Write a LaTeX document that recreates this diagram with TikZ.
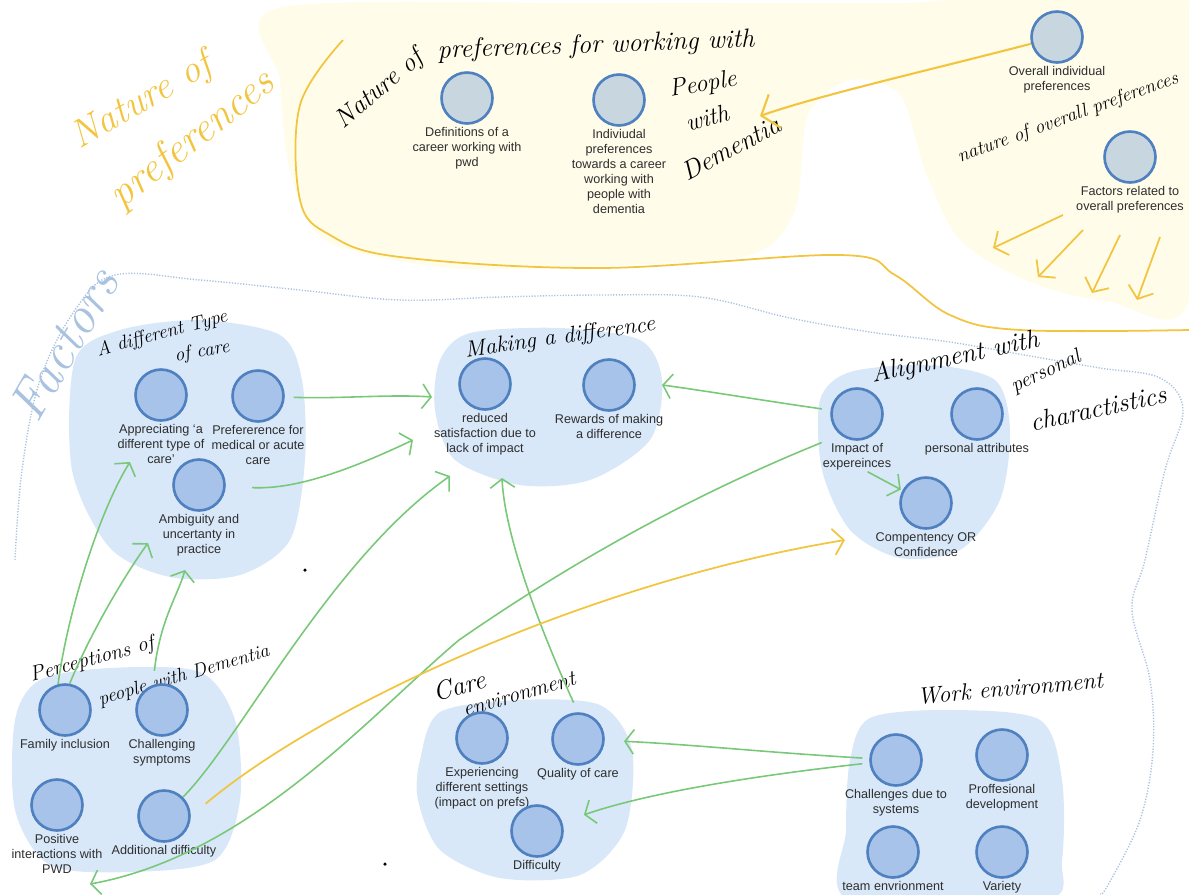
\documentclass[tikz,border=0pt]{standalone}
\usepackage{fontspec}
\usepackage{tikz}
\usetikzlibrary{arrows.meta}
\usetikzlibrary{positioning}
\newfontfamily\labelfont[Ligatures=TeX]{Liberation Sans}
\definecolor{PaleYellow}{HTML}{FFFCEA}
\definecolor{PenYellow}{HTML}{F2C540}
\definecolor{PenGreen}{HTML}{78C878}
\definecolor{GroupBlue}{HTML}{D8E8F9}
\definecolor{BubbleBlue}{HTML}{A8C3E9}
\definecolor{BubbleEdge}{HTML}{4F80BF}
\definecolor{BubbleGrey}{HTML}{C8D7DF}
\definecolor{PenBlue}{HTML}{A9C2E0}
\definecolor{LabelGrey}{HTML}{2E2E2E}

\begin{document}
\begin{tikzpicture}[x=0.02cm, y=-0.02cm,
  bubble/.style={circle, draw=BubbleEdge, fill=BubbleBlue, line width=1.5pt,
    minimum size=29pt, inner sep=0pt},
  topbubble/.style={bubble, fill=BubbleGrey},
  blabel/.style={align=center, font=\labelfont\fontsize{7.2}{8.5}\selectfont,
    text=LabelGrey, inner sep=0.5pt},
  hand/.style={font=\itshape\fontsize{#1}{#1}\selectfont, inner sep=0pt},
  garrow/.style={draw=PenGreen, line width=0.9pt,
    arrows={-Straight Barb[length=5pt,width=14pt]}},
  yarrow/.style={draw=PenYellow, line width=1pt,
    arrows={-Straight Barb[length=6pt,width=15pt]}},
  groupblob/.style={fill=GroupBlue},
]

\useasboundingbox (0,0) rectangle (1189,894);
\clip (0,0) rectangle (1189,894);

% The grid
% \draw[step=50, gray!40, very thin] (0,0) grid (1189,894);

% yellow background of the preferences part
\fill[PaleYellow] plot[smooth cycle, tension=0.5] coordinates {
  (278,8) (600,3) (900,3) (1189,2) (1189,300) (1110,302) (1030,282)
  (960,240) (925,170) (900,95) (850,80) (808,115) (795,210) (750,255)
  (600,266) (450,268) (325,240) (290,170) (280,80)};

% yellow line round the preferences
\draw[PenYellow, line width=1pt] plot[smooth, tension=0.6] coordinates {
  (343,40) (300,105) (300,200) (330,235) (400,257) (600,268) (840,255)
  (895,275) (950,315) (1020,330) (1189,330)};

% dotted line round the factors
\draw[PenBlue, line width=0.8pt, dash pattern=on 0.7pt off 0.9pt]
  plot[smooth, tension=0.6] coordinates {
  (15,560) (22,470) (40,380) (75,310) (115,275) (200,280) (300,290)
  (400,300) (500,297) (600,295) (700,297) (790,318) (870,332) (950,342)
  (1030,356) (1100,368) (1160,378) (1183,410) (1165,470) (1145,560)
  (1132,610) (1150,680) (1153,750) (1140,820) (1108,885) (1100,894)};

% group blobs
\fill[groupblob] plot[smooth cycle] coordinates {
  (75,360) (120,330) (200,320) (280,335) (302,380) (305,460) (290,540)
  (240,575) (170,577) (110,548) (72,470)};
\fill[groupblob] plot[smooth cycle] coordinates {
  (440,360) (470,333) (560,328) (640,340) (662,380) (650,440) (590,480)
  (520,485) (455,460) (435,410)};
\fill[groupblob] plot[smooth cycle] coordinates {
  (820,400) (850,372) (930,365) (995,380) (1010,430) (1000,500) (960,550)
  (900,558) (850,530) (822,470)};
\fill[groupblob] plot[smooth cycle] coordinates {
  (15,720) (40,680) (110,668) (200,672) (235,720) (240,800) (215,860)
  (130,872) (50,865) (15,810)};
\fill[groupblob] plot[smooth cycle] coordinates {
  (420,760) (440,712) (520,700) (600,705) (632,750) (625,830) (580,875)
  (500,878) (440,850) (418,800)};
\fill[groupblob] plot[smooth cycle] coordinates {
  (850,760) (870,718) (950,710) (1040,720) (1062,780) (1062,860)
  (1045,900) (850,900) (846,830)};

% handwritten titles
\node[hand=22, text=PenYellow, rotate=30] (natPrefA) at (142,102) {Nature of};
\node[hand=24, text=PenYellow, rotate=38] (natPrefB) at (193,140) {preferences};
\node[hand=15, rotate=40] (natWorkA) at (380,90) {Nature of};
\node[hand=15, rotate=2] (natWorkB) at (596,46) {preferences for working with};
\node[hand=14, rotate=10] (natWorkC) at (703,85) {People};
\node[hand=14, rotate=15] (natWorkD) at (707,118) {with};
\node[hand=15, rotate=28] (natWorkE) at (731,148) {Dementia};
\node[hand=11, rotate=20] (natOver) at (1068,118) {nature of overall preferences};
\node[hand=30, text=PenBlue, rotate=60] (factors) at (64,344) {Factors};
\node[hand=11, rotate=15] (diffTypeA) at (162,334) {A different Type};
\node[hand=11, rotate=10] (diffTypeB) at (202,352) {of care};
\node[hand=13, rotate=8] (makeDiff) at (560,338) {Making a difference};
\node[hand=15, rotate=12] (alignA) at (955,358) {Alignment with};
\node[hand=12, rotate=25] (alignB) at (1046,372) {personal};
\node[hand=15, rotate=12] (alignC) at (1098,408) {charactistics};
\node[hand=12, rotate=15] (percA) at (92,660) {Perceptions of};
\node[hand=11, rotate=16] (percB) at (184,676) {people with Dementia};
\node[hand=15, rotate=15] (careA) at (459,686) {Care};
\node[hand=12.5, rotate=16] (careB) at (519,694) {environment};
\node[hand=13.4, rotate=5] (workEnv) at (1010,688) {Work environment};

% preferences bubbles
\node[topbubble] (defi) at (467,98) {};
\node[blabel, below=1pt of defi] (defiL) {Definitions of a\\career working with\\pwd};
\node[topbubble] (indi) at (619,100) {};
\node[blabel, below=1pt of indi] (indiL) {Indiviudal\\preferences\\towards a career\\working with\\people with\\dementia};
\node[topbubble] (over) at (1057,37) {};
\node[blabel, below=1pt of over] (overL) {Overall individual\\preferences};
\node[topbubble] (fact) at (1130,157) {};
\node[blabel, below=1pt of fact] (factL) {Factors related to\\overall preferences};

% a different type of care
\node[bubble] (appr) at (161,395) {};
\node[blabel, below=1pt of appr] (apprL) {Appreciating `a\\different type of\\care'};
\node[bubble] (pref) at (258,396) {};
\node[blabel, below=1pt of pref] (prefL) {Prefererence for\\medical or acute\\care};
\node[bubble] (ambi) at (199,485) {};
\node[blabel, below=1pt of ambi] (ambiL) {Ambiguity and\\uncertanty in\\practice};

% making a difference
\node[bubble] (redu) at (485,384) {};
\node[blabel, below=1pt of redu] (reduL) {reduced\\satisfaction due to\\lack of impact};
\node[bubble] (rewa) at (609,385) {};
\node[blabel, below=1pt of rewa] (rewaL) {Rewards of making\\a difference};

% alignment with personal characteristics
\node[bubble] (impa) at (857,414) {};
\node[blabel, below=1pt of impa] (impaL) {Impact of\\expereinces};
\node[bubble] (attr) at (977,414) {};
\node[blabel, below=1pt of attr] (attrL) {personal attributes};
\node[bubble] (comp) at (926,503) {};
\node[blabel, below=1pt of comp] (compL) {Compentency OR\\Confidence};

% perceptions of people with dementia
\node[bubble] (fami) at (65,710) {};
\node[blabel, below=1pt of fami] (famiL) {Family inclusion};
\node[bubble] (chal) at (162,710) {};
\node[blabel, below=1pt of chal] (chalL) {Challenging\\symptoms};
\node[bubble] (posi) at (57,805) {};
\node[blabel, below=1pt of posi] (posiL) {Positive\\interactions with\\PWD};
\node[bubble] (addi) at (164,816) {};
\node[blabel, below=1pt of addi] (addiL) {Additional difficulty};

% care environment
\node[bubble] (expe) at (482,738) {};
\node[blabel, below=1pt of expe] (expeL) {Experiencing\\different settings\\(impact on prefs)};
\node[bubble] (qual) at (578,739) {};
\node[blabel, below=1pt of qual] (qualL) {Quality of care};
\node[bubble] (diff) at (537,831) {};
\node[blabel, below=1pt of diff] (diffL) {Difficulty};

% work environment
\node[bubble] (syst) at (896,760) {};
\node[blabel, below=1pt of syst] (systL) {Challenges due to\\systems};
\node[bubble] (prof) at (1002,755) {};
\node[blabel, below=1pt of prof] (profL) {Proffesional\\development};
\node[bubble] (team) at (893,852) {};
\node[blabel, below=1pt of team] (teamL) {team envrionment};
\node[bubble] (vari) at (1002,852) {};
\node[blabel, below=1pt of vari] (variL) {Variety};

% free arrow ends
\coordinate (tDiffA) at (432,397);
\coordinate (tDiffB) at (413,440);
\coordinate (tDiffC) at (450,476);
\coordinate (tDiffD) at (502,478);
\coordinate (tDiffE) at (662,385);
\coordinate (tPosi) at (90,884);
\coordinate (tAppr) at (130,462);
\coordinate (tAmbiA) at (148,543);
\coordinate (tAmbiB) at (185,570);
\coordinate (tComp) at (845,540);
\coordinate (tDem) at (760,116);
\coordinate (ysA) at (1063,215);
\coordinate (yeA) at (993,248);
\coordinate (ysB) at (1083,230);
\coordinate (yeB) at (1038,277);
\coordinate (ysC) at (1120,235);
\coordinate (yeC) at (1092,293);
\coordinate (ysD) at (1160,237);
\coordinate (yeD) at (1137,300);

% green arrows
\draw[garrow, shorten <=5pt] (pref) .. controls (340,399) and (390,394) .. (tDiffA);
\draw[garrow, shorten <=15pt] (ambi) .. controls (300,490) and (360,465) .. (tDiffB);
\draw[garrow] (addi.45) .. controls (240,740) and (330,560) .. (tDiffC);
\draw[garrow, shorten <=6pt] (qual.north) .. controls (545,640) and (505,540) .. (tDiffD);
\draw[garrow, shorten <=5pt] (impa) .. controls (760,400) and (700,390) .. (tDiffE);
\draw[garrow] (impaL.north west) .. controls (680,500) and (560,570) .. (459,640)
  .. controls (370,715) and (250,855) .. (tPosi);
\draw[garrow, shorten >=1pt] ([xshift=6pt]impaL.south) -- (comp);
\draw[garrow] (fami.105) .. controls (68,610) and (100,510) .. (tAppr);
\draw[garrow] (fami.80) .. controls (92,630) and (125,575) .. (tAmbiA);
\draw[garrow, shorten <=8pt] (chal.110) .. controls (160,620) and (178,595) .. (tAmbiB);
\draw[garrow, shorten <=4pt, shorten >=11pt] (syst) .. controls (760,752) and (700,745) .. (qual);
\draw[garrow, shorten <=4pt, shorten >=13pt] (syst) .. controls (760,775) and (650,792) .. (diff);

% yellow arrows
\draw[yarrow, shorten <=11pt] (addi.east) .. controls (330,700) and (600,580) .. (tComp);
\draw[yarrow, line width=1.2pt, arrows={-Straight Barb[length=8pt,width=20pt]}]
  (over) .. controls (930,70) and (820,95) .. (tDem);
\draw[yarrow] (ysA) -- (yeA);
\draw[yarrow] (ysB) -- (yeB);
\draw[yarrow] (ysC) -- (yeC);
\draw[yarrow] (ysD) -- (yeD);

% dots
\fill (305,570) circle (1pt);
\fill (385,864) circle (1pt);

\end{tikzpicture}
\end{document}
